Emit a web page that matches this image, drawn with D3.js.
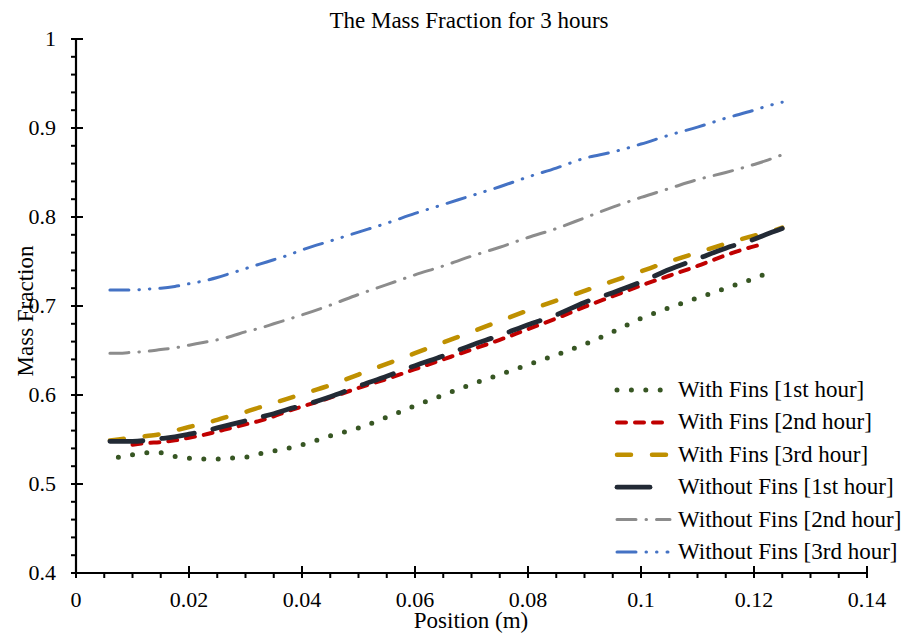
<!DOCTYPE html>
<html>
<head>
<meta charset="utf-8">
<script src="https://d3js.org/d3.v7.min.js"></script>
<style>
  body { margin: 0; background: #fff; }
  text { font-family: "Liberation Serif", "Times New Roman", serif; fill: #000; }
</style>
</head>
<body>
<svg width="904" height="636"></svg>
<script>
// position along the tube (m)
var position = [0.006, 0.0075, 0.01, 0.0125, 0.015, 0.0175, 0.02, 0.0225, 0.025, 0.0275,
  0.03, 0.0325, 0.035, 0.0375, 0.04, 0.045, 0.05, 0.055, 0.06, 0.065, 0.07, 0.075,
  0.08, 0.085, 0.09, 0.095, 0.1, 0.105, 0.11, 0.115, 0.12, 0.122, 0.125];

var withFins1 = [null, 0.530, 0.533, 0.535, 0.535, 0.531, 0.529, 0.528, 0.528, 0.529,
  0.530, 0.534, 0.537, 0.540, 0.544, 0.554, 0.563, 0.575, 0.588, 0.600, 0.612, 0.623,
  0.634, 0.645, 0.657, 0.671, 0.686, 0.698, 0.709, 0.720, 0.731, 0.736, null];
var withFins2 = [null, null, 0.544, 0.546, 0.547, 0.549, 0.552, 0.555, 0.559, 0.563,
  0.567, 0.571, 0.576, 0.582, 0.587, 0.597, 0.608, 0.618, 0.629, 0.640, 0.651, 0.662,
  0.674, 0.686, 0.699, 0.711, 0.723, 0.734, 0.745, 0.757, 0.767, 0.770, null];
var withFins3 = [0.549, 0.550, 0.552, 0.554, 0.556, 0.560, 0.564, 0.568, 0.572, 0.577,
  0.581, 0.586, 0.591, 0.596, 0.601, 0.611, 0.623, 0.635, 0.647, 0.659, 0.671, 0.683,
  0.695, 0.706, 0.717, 0.728, 0.739, 0.750, 0.760, 0.770, 0.779, 0.782, 0.788];
var withoutFins1 = [0.548, 0.548, 0.548, 0.549, 0.551, 0.553, 0.556, 0.559, 0.563, 0.567,
  0.571, 0.575, 0.579, 0.584, 0.588, 0.598, 0.610, 0.621, 0.633, 0.644, 0.656, 0.667,
  0.679, 0.690, 0.704, 0.715, 0.727, 0.741, 0.753, 0.765, 0.775, 0.780, 0.787];
var withoutFins2 = [0.647, 0.647, 0.648, 0.649, 0.651, 0.653, 0.656, 0.659, 0.662, 0.666,
  0.671, 0.675, 0.680, 0.685, 0.690, 0.701, 0.713, 0.724, 0.735, 0.745, 0.756, 0.766,
  0.777, 0.787, 0.799, 0.811, 0.822, 0.832, 0.842, 0.850, 0.859, 0.863, 0.870];
var withoutFins3 = [0.718, 0.718, 0.718, 0.719, 0.720, 0.722, 0.725, 0.728, 0.732, 0.737,
  0.742, 0.747, 0.752, 0.757, 0.763, 0.773, 0.783, 0.793, 0.804, 0.814, 0.824, 0.834,
  0.845, 0.855, 0.866, 0.873, 0.882, 0.892, 0.901, 0.911, 0.920, 0.924, 0.929];

var seriesNames = ["With Fins [1st hour]", "With Fins [2nd hour]", "With Fins [3rd hour]",
  "Without Fins [1st hour]", "Without Fins [2nd hour]", "Without Fins [3rd hour]"];
var xTicks = [0, 0.02, 0.04, 0.06, 0.08, 0.1, 0.12, 0.14];
var yTicks = [0.4, 0.5, 0.6, 0.7, 0.8, 0.9, 1];

function main() {
  var svg = d3.select("svg");
  var left = 76, right = 867, top = 39, bottom = 573;

  var xScale = d3.scaleLinear().domain([0, 0.14]).range([left, right]),
      yScale = d3.scaleLinear().domain([0.4, 1]).range([bottom, top]);

  // line styles (legendEnd: where the legend sample stops)
  var styles = [
    { color: "#375623", width: 5, dash: "0,14.4", legendEnd: 670 },
    { color: "#C00000", width: 4, dash: "9,9", legendEnd: 670 },
    { color: "#BF9000", width: 4.5, dash: "14,21", legendEnd: 670 },
    { color: "#222A35", width: 4.8, dash: "33,19", legendEnd: 654 },
    { color: "#8C8C8C", width: 3, dash: "19,10,0.5,10", legendEnd: 670 },
    { color: "#4472C4", width: 3, dash: "19,10,0.5,10,0.5,10", legendEnd: 668 }
  ];
  var values = [withFins1, withFins2, withFins3, withoutFins1, withoutFins2, withoutFins3];

  svg.append("text")
    .attr("x", 469)
    .attr("y", 28)
    .attr("text-anchor", "middle")
    .style("font-size", "23px")
    .text("The Mass Fraction for 3 hours");

  // axes with minor ticks
  var g = svg.append("g");
  var xMinor = d3.range(0, 0.1401, 0.005).filter(function(d) { return Math.abs(d / 0.02 - Math.round(d / 0.02)) > 1e-6; });
  var yMinor = d3.range(0.4, 1.0001, 0.02).filter(function(d) { return Math.abs(d / 0.1 - Math.round(d / 0.1)) > 1e-6; });

  g.selectAll(".ymin").data(yMinor).enter().append("line")
    .attr("x1", left - 5).attr("x2", left)
    .attr("y1", function(d) { return yScale(d); }).attr("y2", function(d) { return yScale(d); })
    .attr("stroke", "#000").attr("stroke-width", 2);
  g.selectAll(".ymaj").data(yTicks).enter().append("line")
    .attr("x1", left - 5).attr("x2", left + 7)
    .attr("y1", function(d) { return yScale(d); }).attr("y2", function(d) { return yScale(d); })
    .attr("stroke", "#000").attr("stroke-width", 2);
  g.selectAll(".xmin").data(xMinor).enter().append("line")
    .attr("x1", function(d) { return xScale(d); }).attr("x2", function(d) { return xScale(d); })
    .attr("y1", bottom).attr("y2", bottom + 5)
    .attr("stroke", "#000").attr("stroke-width", 2);
  g.selectAll(".xmaj").data(xTicks).enter().append("line")
    .attr("x1", function(d) { return xScale(d); }).attr("x2", function(d) { return xScale(d); })
    .attr("y1", bottom - 7).attr("y2", bottom + 5)
    .attr("stroke", "#000").attr("stroke-width", 2);

  g.append("line").attr("x1", left).attr("x2", left).attr("y1", top).attr("y2", bottom)
    .attr("stroke", "#000").attr("stroke-width", 2.2);
  g.append("line").attr("x1", left).attr("x2", right).attr("y1", bottom).attr("y2", bottom)
    .attr("stroke", "#000").attr("stroke-width", 2.2);

  g.selectAll(".ylab").data(yTicks).enter().append("text")
    .attr("x", left - 20)
    .attr("y", function(d) { return yScale(d) + 7; })
    .attr("text-anchor", "end")
    .style("font-size", "22px")
    .text(function(d) { return d3.format("")(d); });
  g.selectAll(".xlab").data(xTicks).enter().append("text")
    .attr("x", function(d) { return xScale(d); })
    .attr("y", 607)
    .attr("text-anchor", "middle")
    .style("font-size", "22px")
    .text(function(d) { return d3.format("")(d); });

  svg.append("text")
    .attr("x", 471)
    .attr("y", 628)
    .attr("text-anchor", "middle")
    .style("font-size", "23px")
    .text("Position (m)");
  svg.append("text")
    .attr("transform", "translate(33,311) rotate(-90)")
    .attr("text-anchor", "middle")
    .style("font-size", "23px")
    .text("Mass Fraction");

  // the lines
  var line = d3.line()
    .x(function(d) { return xScale(d[0]); })
    .y(function(d) { return yScale(d[1]); })
    .curve(d3.curveMonotoneX);

  // draw back to front so the first series sits on top like the original
  [5, 4, 2, 1, 3, 0].forEach(function(i) {
    var pts = position.map(function(p, j) { return [p, values[i][j]]; })
      .filter(function(d) { return d[1] != null; });
    svg.append("path")
      .attr("d", line(pts))
      .attr("fill", "none")
      .attr("stroke", styles[i].color)
      .attr("stroke-width", styles[i].width)
      .attr("stroke-dasharray", styles[i].dash)
      .attr("stroke-linecap", "round");
  });

  // legend
  var legend = svg.append("g");
  seriesNames.forEach(function(name, i) {
    var y = 390 + i * 32.4;
    legend.append("line")
      .attr("x1", 617).attr("x2", styles[i].legendEnd)
      .attr("y1", y).attr("y2", y)
      .attr("stroke", styles[i].color)
      .attr("stroke-width", styles[i].width)
      .attr("stroke-dasharray", styles[i].dash)
      .attr("stroke-linecap", "round");
    legend.append("text")
      .attr("x", 678)
      .attr("y", y + 7)
      .style("font-size", "23px")
      .text(name);
  });
}
main();
</script>
</body>
</html>
